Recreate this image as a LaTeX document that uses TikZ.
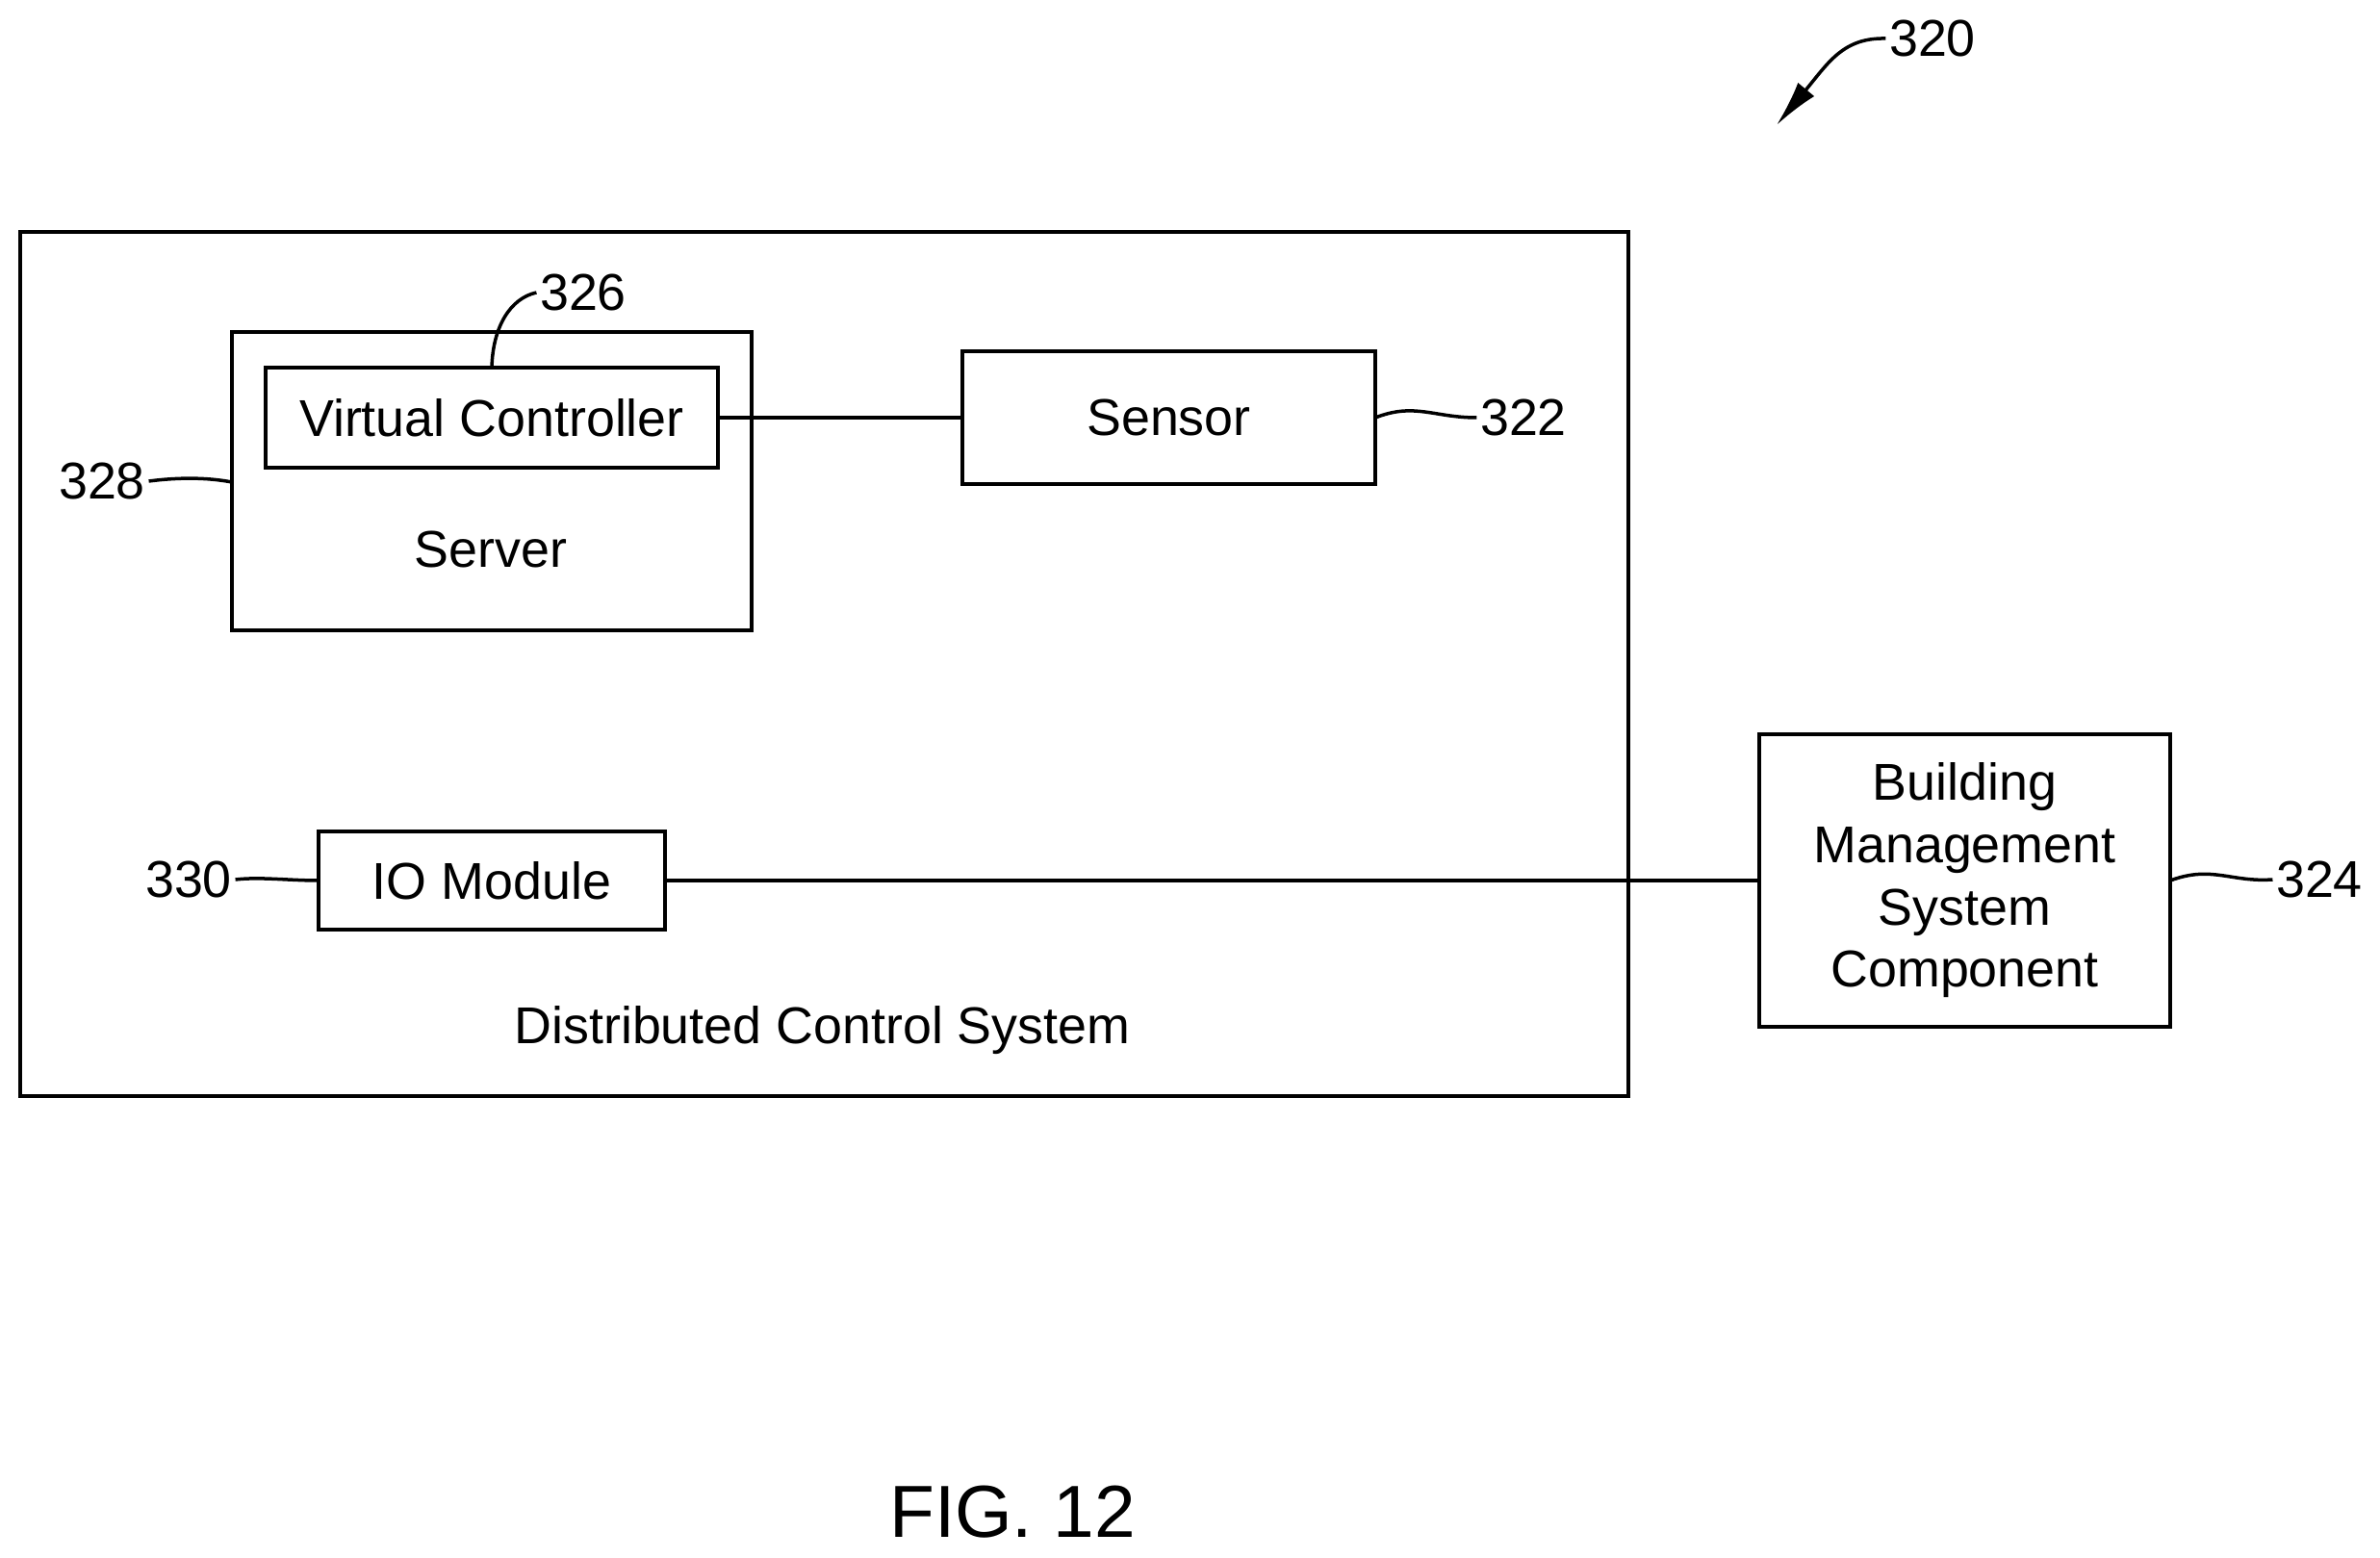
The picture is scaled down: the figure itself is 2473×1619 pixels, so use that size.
\documentclass[tikz,border=0pt]{standalone}
\usepackage{fontspec}
\setmainfont{Liberation Sans}
\usetikzlibrary{arrows.meta}
\begin{document}
\begin{tikzpicture}[
				x=0.01cm, y=-0.01cm,
				every node/.style={inner sep=0, font=\fontsize{15.3}{18.4}\selectfont},
				unitbox/.style={draw, line width=0.04cm, outer sep=0},
				link/.style={line width=0.04cm},
				refnum/.style={inner sep=0.03cm},
				leader/.style={line width=0.035cm},
			]
			\useasboundingbox (0,0) rectangle (2473,1619);
			\node[unitbox, minimum width=16.70cm, minimum height=8.98cm] (dcs) at (856,690) {};
			\node (dcslabel) at (854.5,1070.5) {Distributed Control System};
			\node[unitbox, minimum width=5.4cm, minimum height=3.1cm] (server) at (511,500) {};
			\node (serverlabel) at (510,571) {Server};
			\node[unitbox, minimum width=4.7cm, minimum height=1.04cm] (vc) at (511,434) {Virtual Controller};
			\node[unitbox, minimum width=4.29cm, minimum height=1.37cm] (sensor) at (1214.5,434) {Sensor};
			\node[unitbox, minimum width=3.6cm, minimum height=1.02cm] (io) at (511,915) {IO Module};
			\node[unitbox, minimum width=4.27cm, minimum height=3.03cm, align=center] (bms) at (2041.5,915) {Building\\Management\\System\\Component};
			\draw[link] (vc.east) -- (sensor.west);
			\draw[link] (io.east) -- (bms.west);

			\node[refnum] (ref320) at (2008,40) {320};
			\node[refnum] (ref326) at (606,304) {326};
			\node[refnum] (ref322) at (1583,434) {322};
			\node[refnum] (ref328) at (106,500) {328};
			\node[refnum] (ref330) at (196,914) {330};
			\node[refnum] (ref324) at (2410,914) {324};
			\coordinate (arrowtip) at (1846,130);
			\coordinate (servertap) at (241,501);
			\draw[leader, -{Latex[length=0.48cm, width=0.22cm]}] (ref320.west) .. controls (1915,39) and (1900,65) .. (arrowtip);
			\draw[leader] (ref326.west) .. controls (530,310) and (512,340) .. (vc.north);
			\draw[leader] (sensor.east) .. controls (1470,418) and (1490,434) .. (ref322.west);
			\draw[leader] (ref328.east) .. controls (185,496) and (215,496) .. (servertap);
			\draw[leader] (ref330.east) .. controls (270,911) and (300,915) .. (io.west);
			\draw[leader] (bms.east) .. controls (2298,899) and (2318,917) .. (ref324.west);

			\node[font=\fontsize{21.8}{26}\selectfont] (figlabel) at (1052,1571) {FIG. 12};
			\end{tikzpicture}
\end{document}
